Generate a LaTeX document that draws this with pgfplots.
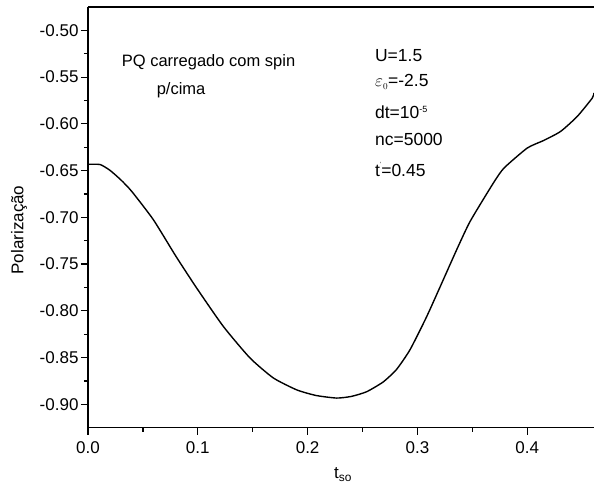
\documentclass[border=0pt]{standalone}
\usepackage{pgfplots}
\pgfplotsset{compat=1.18}
\usepackage{fontspec}
\setmainfont{Liberation Sans}
\begin{document}
\begin{tikzpicture}
\path[use as bounding box] (-88pt,-64.3pt) rectangle (506pt,427.7pt);
\begin{axis}[
  at={(0,0)}, anchor=south west,
  scale only axis, width=506pt, height=420.7pt,
  xmin=0, xmax=0.4608, ymin=-0.925, ymax=-0.475,
  axis x line=box, axis y line=left,
  axis line style={-, line width=1.4pt, black},
  xtick={0,0.1,0.2,0.3,0.4}, ytick={-0.90,-0.85,-0.80,-0.75,-0.70,-0.65,-0.60,-0.55,-0.50},
  minor x tick num=1, minor y tick num=1,
  xtick pos=left, ytick pos=left,
  tick align=outside,
  major tick length=7pt, minor tick length=4pt,
  every tick/.style={black, line width=1.2pt},
  /pgf/number format/assume math mode=true,
  xticklabel style={/pgf/number format/.cd, fixed, fixed zerofill, precision=1, /tikz/.cd, yshift=-3pt},
  yticklabel style={/pgf/number format/.cd, fixed, fixed zerofill, precision=2, /tikz/.cd, xshift=1pt},
  tick label style={font=\fontsize{17}{19}\selectfont},
  xlabel={t\textsubscript{so}}, ylabel={Polarização},
  every axis x label/.style={at={(axis description cs:0.504,-0.1117)}, anchor=center, font=\fontsize{17}{19}\selectfont},
  every axis y label/.style={at={(axis description cs:-0.1364,0.47)}, anchor=center, rotate=90, font=\fontsize{17}{19}\selectfont},
]
\addplot[black, line width=1.4pt, smooth, tension=0.35] coordinates {
(0,-0.6433) (0.011,-0.6435) (0.020,-0.6497) (0.030,-0.660) (0.0398,-0.6722)
(0.0595,-0.7025) (0.0801,-0.7417) (0.0989,-0.7755) (0.1232,-0.8166) (0.1475,-0.8504)
(0.1688,-0.8718) (0.19,-0.8845) (0.2075,-0.8905) (0.2265,-0.8933) (0.24,-0.8915)
(0.2538,-0.8865) (0.2689,-0.876) (0.2811,-0.8625) (0.2933,-0.8415) (0.3085,-0.806)
(0.3236,-0.7666) (0.3358,-0.7345) (0.348,-0.7043) (0.3692,-0.6632) (0.3789,-0.6472)
(0.4001,-0.6258) (0.4153,-0.6176) (0.4305,-0.608) (0.4456,-0.592) (0.4593,-0.5723)
(0.4607,-0.567)
};
\begin{scope}[font=\fontsize{16.5}{18}\selectfont]
\node[anchor=base west, inner sep=0pt] at (axis description cs:0.0666,0.8581) {PQ carregado com spin};
\node[anchor=base west, inner sep=0pt] at (axis description cs:0.1356,0.7932) {p/cima};
\end{scope}
\begin{scope}[font=\fontsize{17.5}{19}\selectfont]
\node[anchor=base west, inner sep=0pt] at (axis description cs:0.567,0.870) {U=1.5};
\node[anchor=base west, inner sep=0pt] at (axis description cs:0.567,0.8106) {$\varepsilon_{\scriptscriptstyle 0}$=-2.5};
\node[anchor=base west, inner sep=0pt] at (axis description cs:0.567,0.7355) {dt=10\textsuperscript{\fontsize{9}{9}\selectfont -5}};
\node[anchor=base west, inner sep=0pt] at (axis description cs:0.567,0.6696) {nc=5000};
\node[anchor=base west, inner sep=0pt] at (axis description cs:0.567,0.5966) {t\raisebox{0.6em}{\fontsize{6}{6}\selectfont '}=0.45};
\end{scope}
\end{axis}
\end{tikzpicture}
\end{document}
